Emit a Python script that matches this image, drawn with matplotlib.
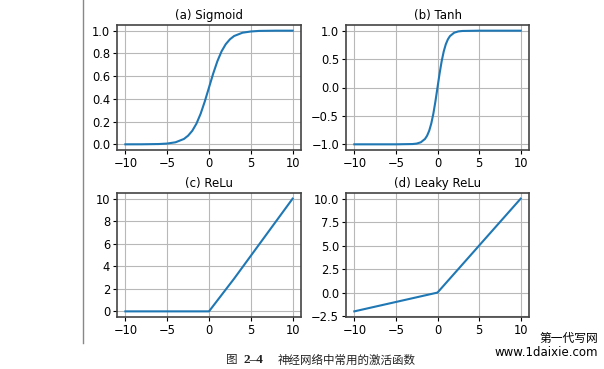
import matplotlib
matplotlib.use("Agg")
import matplotlib.pyplot as plt
from matplotlib.lines import Line2D

plt.rcParams['font.family'] = ['DejaVu Sans', 'Noto Sans CJK SC']

# values
sig_x = [-10, -8, -6, -5, -4, -3, -2.5, -2, -1.5, -1, -0.5, 0,
         0.5, 1, 1.5, 2, 2.5, 3, 4, 5, 6, 8, 10]
sig_y = [0.0, 0.0003, 0.0025, 0.0067, 0.018, 0.047, 0.076, 0.119, 0.182, 0.269, 0.378, 0.5,
         0.622, 0.731, 0.818, 0.881, 0.924, 0.953, 0.982, 0.993, 0.998, 1.0, 1.0]

tanh_x = [-10, -5, -3, -2.5, -2, -1.5, -1.25, -1, -0.75, -0.5, -0.25, 0,
          0.25, 0.5, 0.75, 1, 1.25, 1.5, 2, 2.5, 3, 5, 10]
tanh_y = [-1.0, -1.0, -0.995, -0.987, -0.964, -0.905, -0.848, -0.762, -0.635, -0.462, -0.245, 0.0,
          0.245, 0.462, 0.635, 0.762, 0.848, 0.905, 0.964, 0.987, 0.995, 1.0, 1.0]

relu_x = [-10, 0, 3, 10]
relu_y = [0, 0, 2.9, 10]

leaky_x = [-10, 0, 10]
leaky_y = [-2, 0, 10]

titles = ["(a) Sigmoid", "(b) Tanh", "(c) ReLu", "(d) Leaky ReLu"]
series = [(sig_x, sig_y), (tanh_x, tanh_y), (relu_x, relu_y), (leaky_x, leaky_y)]
xticks = [-10, -5, 0, 5, 10]
yticks = [
    ([0.0, 0.2, 0.4, 0.6, 0.8, 1.0], "{:.1f}"),
    ([-1.0, -0.5, 0.0, 0.5, 1.0], "{:.1f}"),
    ([0, 2, 4, 6, 8, 10], "{:d}"),
    ([-2.5, 0.0, 2.5, 5.0, 7.5, 10.0], "{:.1f}"),
]

W, H = 604, 369
fig = plt.figure(figsize=(W / 100, H / 100), dpi=100)

# axes boxes in pixels: left, top, right, bottom
boxes = [(117, 25, 301, 150), (346, 25, 529, 150),
         (117, 193, 301, 317), (346, 193, 529, 317)]

for (l, t, r, b), title, (xs, ys), (yt, fmt) in zip(boxes, titles, series, yticks):
    ax = fig.add_axes([l / W, 1 - b / H, (r - l) / W, (b - t) / H])
    ax.plot(xs, ys, color="#1f77b4", lw=1.5)
    ax.set_title(title, fontsize=8.5, pad=4)
    ax.set_xticks(xticks)
    ax.set_yticks(yt)
    ax.set_yticklabels([fmt.format(v).replace("-", "\u2212") for v in yt])
    ax.tick_params(labelsize=8.3, length=3, width=0.8, pad=2)
    ax.grid(True, color="#b8b8b8", lw=0.8)
    for sp in ax.spines.values():
        sp.set_color("#444444")
        sp.set_linewidth(1.2)

# left margin rule
fig.add_artist(Line2D([83 / W, 83 / W], [1, 1 - 343 / H], color="#888888", lw=1))

# caption
cy = 1 - 360 / H
fig.text(226 / W, cy, "图", fontsize=8.3, family=['Noto Sans CJK SC'],
         va="center", ha="left", color="#222222")
fig.text(243 / W, cy, "2\u20134", fontsize=9.5, fontweight="bold", family=['Liberation Serif'],
         va="center", ha="left", color="#222222")
fig.text(278 / W, cy, "神经网络中常用的激活函数", fontsize=8.3, family=['Noto Sans CJK SC'],
         va="center", ha="left", color="#222222")

# watermark
fig.text(598 / W, 1 - 338 / H, "第一代写网", fontsize=8.5, family=['Noto Sans CJK SC'],
         va="center", ha="right")
fig.text(598 / W, 1 - 353 / H, "www.1daixie.com", fontsize=8.5, va="center", ha="right")

fig.savefig("out.png", dpi=100)
